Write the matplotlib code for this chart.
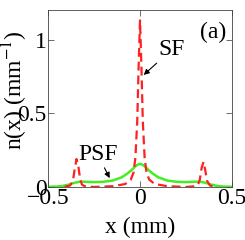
import matplotlib
matplotlib.use("Agg")
import matplotlib.pyplot as plt

plt.rcParams['font.family'] = ['Liberation Serif', 'DejaVu Serif']
plt.rcParams['mathtext.fontset'] = 'stix'

# SF (red dashed)
sf_x = [-0.41, -0.38, -0.365, -0.355, -0.345, -0.335, -0.325, -0.315, -0.30, -0.25, -0.15, -0.08,
        -0.05, -0.035, -0.025, -0.015, -0.008, 0.0, 0.008, 0.015, 0.025, 0.035, 0.05, 0.08,
        0.15, 0.25, 0.30, 0.315, 0.325, 0.335, 0.345, 0.355, 0.365, 0.38, 0.41]
sf_y = [0.0, 0.01, 0.04, 0.12, 0.19, 0.14, 0.05, 0.015, 0.005, 0.0, 0.005, 0.02,
        0.05, 0.10, 0.20, 0.45, 0.80, 1.13, 0.80, 0.45, 0.20, 0.10, 0.05, 0.02,
        0.005, 0.0, 0.005, 0.015, 0.05, 0.13, 0.17, 0.11, 0.04, 0.01, 0.0]

# PSF (green solid)
psf_x = [-0.5, -0.45, -0.42, -0.39, -0.36, -0.33, -0.31, -0.28, -0.25, -0.20, -0.15, -0.10,
         -0.07, -0.05, -0.03, -0.015, 0.0, 0.015, 0.03, 0.05, 0.07, 0.10, 0.15, 0.20,
         0.25, 0.28, 0.31, 0.33, 0.36, 0.39, 0.42, 0.45, 0.5]
psf_y = [0.001, 0.003, 0.007, 0.015, 0.027, 0.035, 0.036, 0.034, 0.033, 0.035, 0.043, 0.065,
         0.09, 0.11, 0.135, 0.15, 0.156, 0.15, 0.135, 0.11, 0.09, 0.065, 0.043, 0.035,
         0.033, 0.034, 0.036, 0.035, 0.027, 0.015, 0.007, 0.003, 0.001]

FS = 17

fig = plt.figure(figsize=(2.45, 2.40), dpi=100)
ax = fig.add_axes([0.196, 0.221, 0.751, 0.737])

ax.plot(psf_x, psf_y, color='#44ee22', lw=1.8, zorder=2)
ax.plot(sf_x, sf_y, color='#ff2020', lw=1.6, dashes=(4, 2.2), zorder=3)

ax.set_xlim(-0.5, 0.5)
ax.set_ylim(0, 1.2)
ax.set_xticks([-0.5, 0, 0.5])
ax.set_xticklabels(['\u22120.5', '0', '0.5'])
ax.set_yticks([0, 0.5, 1])
ax.set_yticklabels(['0', '0.5', '1'])
ax.tick_params(direction='in', length=4, width=0.6, top=True, right=True,
               labelsize=FS, pad=1, color='#555555')
for s in ax.spines.values():
    s.set_linewidth(0.6)
    s.set_color('#444444')

ax.set_xlabel('x (mm)', fontsize=FS)
ax.xaxis.set_label_coords(0.5, -0.17)
ax.set_ylabel('n(x) (mm$^{-1}$)', fontsize=FS)
ax.yaxis.set_label_coords(-0.10, 0.55)

ax.annotate('SF', xy=(0.02, 0.76), xytext=(0.17, 0.93), fontsize=FS,
            ha='center', va='center',
            arrowprops=dict(arrowstyle='-|>', color='black', lw=0.8,
                            mutation_scale=8, shrinkA=0, shrinkB=0))
ax.annotate('PSF', xy=(-0.165, 0.06), xytext=(-0.23, 0.22), fontsize=FS,
            ha='center', va='center',
            arrowprops=dict(arrowstyle='-|>', color='black', lw=0.8,
                            mutation_scale=8, shrinkA=0, shrinkB=0))
ax.text(0.40, 1.05, '(a)', fontsize=FS, ha='center', va='center')

fig.savefig('out.png', dpi=100)
